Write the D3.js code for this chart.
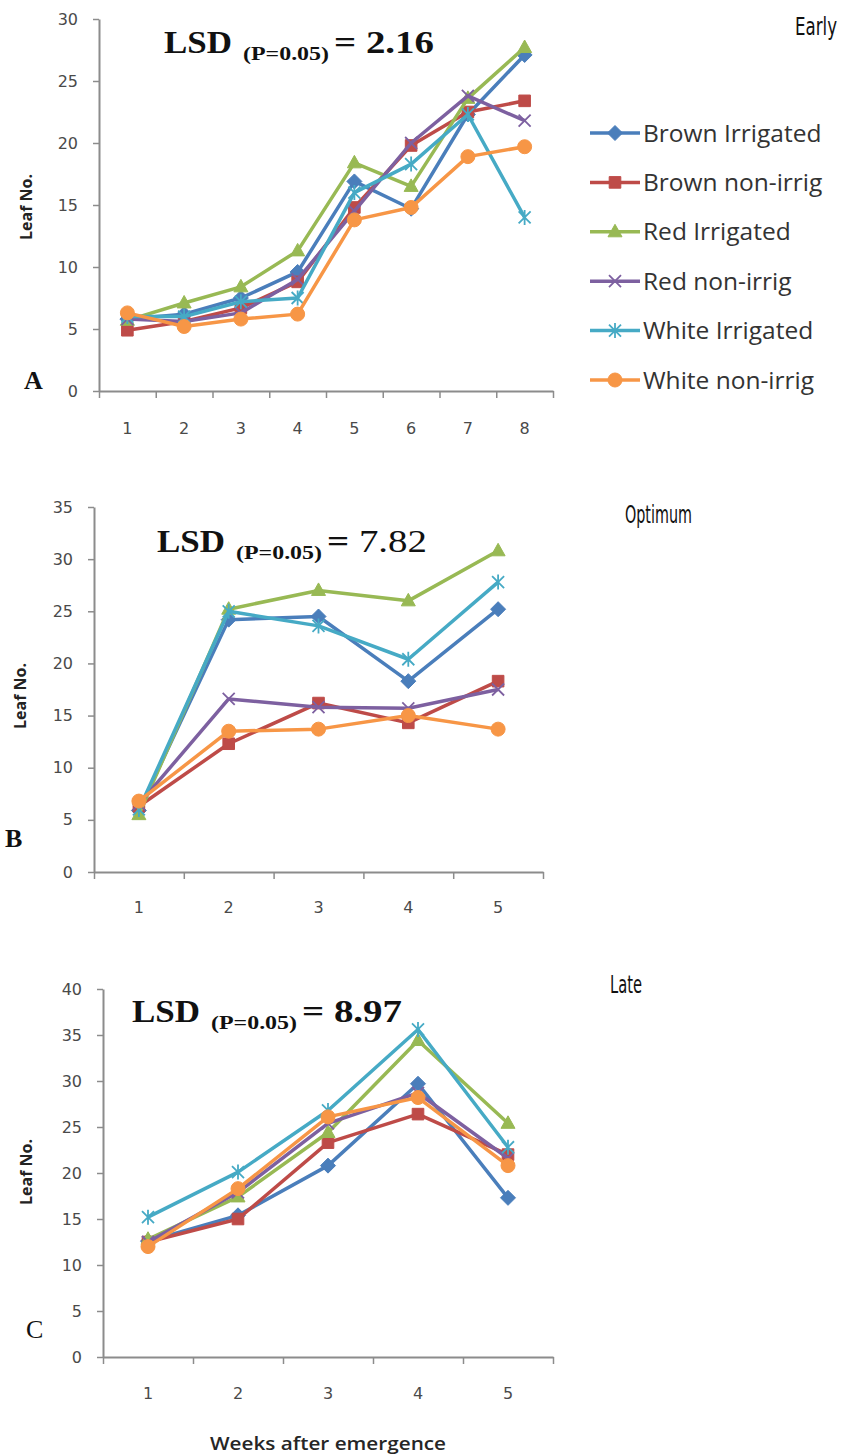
<!DOCTYPE html>
<html>
<head>
<meta charset="utf-8">
<script src="https://cdn.jsdelivr.net/npm/d3@7"></script>
<style>
  body { margin: 0; background: #fff; }
  svg { display: block; }
</style>
</head>
<body>
<div id="chart"></div>
<script>
// series (Excel 2007 default look)
const seriesNames = ["Brown Irrigated", "Brown non-irrig", "Red Irrigated", "Red non-irrig", "White Irrigated", "White non-irrig"];
const seriesColors = ["#4a7ebb", "#be4b48", "#98b954", "#7d60a0", "#46aac5", "#f79646"];
const seriesMarkers = ["diamond", "square", "triangle", "x", "star", "circle"];

// weeks after emergence
const weeksEarly = [1, 2, 3, 4, 5, 6, 7, 8];
const weeksOptimum = [1, 2, 3, 4, 5];
const weeksLate = [1, 2, 3, 4, 5];

// leaf no. - one row per series, same order as seriesNames
const leafEarly = [
    [5.8, 6.2, 7.5, 9.6, 16.9, 14.7, 22.3, 27.1],
    [4.9, 5.6, 6.7, 8.8, 14.8, 19.8, 22.5, 23.4],
    [5.7, 7.1, 8.4, 11.3, 18.4, 16.5, 23.6, 27.7],
    [5.8, 5.6, 6.3, 9.0, 14.5, 20.0, 23.8, 21.8],
    [6.0, 6.0, 7.2, 7.5, 16.0, 18.3, 22.3, 14.0],
    [6.3, 5.2, 5.8, 6.2, 13.8, 14.8, 18.9, 19.7]
];
const leafOptimum = [
    [5.9, 24.2, 24.5, 18.3, 25.2],
    [6.3, 12.3, 16.2, 14.3, 18.3],
    [5.5, 25.2, 27.0, 26.0, 30.8],
    [6.5, 16.6, 15.8, 15.7, 17.5],
    [6.0, 25.0, 23.6, 20.4, 27.8],
    [6.8, 13.5, 13.7, 15.0, 13.7]
];
const leafLate = [
    [12.6, 15.4, 20.8, 29.7, 17.3],
    [12.5, 15.0, 23.3, 26.4, 22.0],
    [12.8, 17.4, 24.4, 34.4, 25.4],
    [12.5, 17.9, 25.4, 28.7, 21.6],
    [15.2, 20.1, 26.8, 35.6, 22.8],
    [12.0, 18.3, 26.1, 28.2, 20.8]
];

const lsdValues = ["2.16", "7.82", "8.97"];
const seasonNames = ["Early", "Optimum", "Late"];
const panelLetters = ["A", "B", "C"];
const yMaxes = [30, 35, 40];

// layout for each panel (pixels)
const panels = [
    { weeks: weeksEarly, values: leafEarly, left: 99, right: 553, bottom: 391, top: 19, labelGap: 41,
      leafX: 26, leafY: 207, lsdX: 164, lsdY: 53, seasonX: 795, seasonY: 35, seasonW: 42, letterX: 24, letterY: 389 },
    { weeks: weeksOptimum, values: leafOptimum, left: 94, right: 543, bottom: 872, top: 507, labelGap: 39,
      leafX: 20, leafY: 696, lsdX: 157, lsdY: 552, seasonX: 625, seasonY: 523, seasonW: 67, letterX: 5, letterY: 847 },
    { weeks: weeksLate, values: leafLate, left: 103, right: 553, bottom: 1357, top: 989, labelGap: 40,
      leafX: 26, leafY: 1172, lsdX: 132, lsdY: 1022, seasonX: 610, seasonY: 993, seasonW: 32, letterX: 26, letterY: 1338 }
];

const svg = d3.select("#chart").append("svg")
    .attr("width", 848)
    .attr("height", 1456);

const axisGrey = "#8c8c8c";
const labelGrey = "#4a4a4a";

// marker shapes
function markerPath(type) {
    switch (type) {
        case "diamond": return "M0,-7.5L7.5,0L0,7.5L-7.5,0Z";
        case "square": return "M-5.8,-5.8H5.8V5.8H-5.8Z";
        case "triangle": return "M0,-7.5L7,5H-7Z";
        case "x": return "M-6,-6L6,6M-6,6L6,-6";
        case "star": return "M-6,-6L6,6M-6,6L6,-6M0,-7.5V7.5";
        default: return null;
    }
}

function drawMarker(g, type, color, x, y) {
    if (type === "circle") {
        g.append("circle").attr("cx", x).attr("cy", y).attr("r", 7)
            .attr("fill", color).attr("stroke", color).attr("stroke-width", 1);
    } else if (type === "x" || type === "star") {
        g.append("path").attr("transform", `translate(${x},${y})`).attr("d", markerPath(type))
            .attr("fill", "none").attr("stroke", color).attr("stroke-width", 1.8);
    } else {
        g.append("path").attr("transform", `translate(${x},${y})`).attr("d", markerPath(type))
            .attr("fill", color).attr("stroke", color).attr("stroke-width", 1);
    }
}

panels.forEach((p, pi) => {
    const g = svg.append("g");

    const x = d3.scaleBand().domain(p.weeks).range([p.left, p.right]);
    const xEdge = d3.scaleLinear().domain([0, p.weeks.length]).range([p.left, p.right]);
    const y = d3.scaleLinear().domain([0, yMaxes[pi]]).range([p.bottom, p.top]);

    // y axis
    const yAxis = g.append("g")
        .attr("transform", `translate(${p.left},0)`)
        .call(d3.axisLeft(y).tickValues(d3.range(0, yMaxes[pi] + 1, 5)).tickSize(6).tickSizeOuter(0).tickPadding(15));
    yAxis.select(".domain").attr("stroke", axisGrey).attr("stroke-width", 2);
    yAxis.selectAll(".tick line").attr("stroke", axisGrey).attr("stroke-width", 1.5);
    yAxis.selectAll(".tick text")
        .attr("font-family", "'DejaVu Sans', Verdana, sans-serif")
        .attr("font-size", 16)
        .attr("fill", labelGrey);

    // x axis: ticks between categories, labels centred
    const xAxis = g.append("g")
        .attr("transform", `translate(0,${p.bottom})`)
        .call(d3.axisBottom(xEdge).tickValues(d3.range(0, p.weeks.length + 1)).tickSize(7).tickSizeOuter(0).tickFormat(""));
    xAxis.select(".domain").attr("stroke", axisGrey).attr("stroke-width", 2);
    xAxis.selectAll(".tick line").attr("stroke", axisGrey).attr("stroke-width", 1.5);

    const xLabels = g.append("g")
        .attr("transform", `translate(0,${p.bottom})`)
        .call(d3.axisBottom(x).tickSize(0).tickPadding(p.labelGap - 9));
    xLabels.select(".domain").remove();
    xLabels.selectAll(".tick text")
        .attr("font-family", "'DejaVu Sans', Verdana, sans-serif")
        .attr("font-size", 16)
        .attr("fill", labelGrey);

    // series lines and markers
    const line = d3.line()
        .x((d, i) => x(p.weeks[i]) + x.bandwidth() / 2)
        .y(d => y(d));

    p.values.forEach((vals, si) => {
        const sg = g.append("g");
        sg.append("path")
            .datum(vals)
            .attr("d", line)
            .attr("fill", "none")
            .attr("stroke", seriesColors[si])
            .attr("stroke-width", 3.5)
            .attr("stroke-linejoin", "round");
        vals.forEach((v, i) => {
            drawMarker(sg, seriesMarkers[si], seriesColors[si], x(p.weeks[i]) + x.bandwidth() / 2, y(v));
        });
    });

    // y title
    g.append("text")
        .attr("transform", `translate(${p.leafX},${p.leafY}) rotate(-90)`)
        .attr("text-anchor", "middle")
        .attr("dy", "0.35em")
        .attr("font-family", "'Open Sans', sans-serif")
        .attr("font-weight", "bold")
        .attr("font-size", 16)
        .attr("fill", "#222")
        .text("Leaf No.");

    // LSD note
    const serif = "'Liberation Serif', 'Times New Roman', serif";
    g.append("text")
        .attr("x", p.lsdX).attr("y", p.lsdY)
        .attr("font-family", serif).attr("font-weight", "bold").attr("font-size", 32)
        .attr("textLength", 68).attr("lengthAdjust", "spacingAndGlyphs")
        .attr("fill", "#111")
        .text("LSD");
    g.append("text")
        .attr("x", p.lsdX + 79).attr("y", p.lsdY + 7)
        .attr("font-family", serif).attr("font-weight", "bold").attr("font-size", 18)
        .attr("textLength", 86).attr("lengthAdjust", "spacingAndGlyphs")
        .attr("fill", "#111")
        .text("(P=0.05)");
    const eq = g.append("text")
        .attr("x", p.lsdX + 170).attr("y", p.lsdY)
        .attr("font-family", serif).attr("font-size", 32)
        .attr("textLength", 100).attr("lengthAdjust", "spacingAndGlyphs")
        .attr("fill", "#111");
    eq.append("tspan").attr("font-weight", "bold").text("= ");
    eq.append("tspan").attr("font-weight", pi === 1 ? "normal" : "bold").text(lsdValues[pi]);

    // sowing date label: narrow font, squeezed horizontally to the measured width
    const season = g.append("text")
        .attr("font-family", "'Liberation Sans Narrow', 'DejaVu Sans Condensed', sans-serif")
        .attr("font-size", 25)
        .attr("fill", "#111")
        .text(seasonNames[pi]);
    const natural = season.node().getComputedTextLength();
    season.attr("transform", `translate(${p.seasonX},${p.seasonY}) scale(${p.seasonW / natural},1)`);

    // panel letter
    g.append("text")
        .attr("x", p.letterX).attr("y", p.letterY)
        .attr("font-family", serif)
        .attr("font-weight", pi === 2 ? "normal" : "bold")
        .attr("font-size", 26)
        .attr("fill", "#111")
        .text(panelLetters[pi]);
});

// legend (panel A only)
const legend = svg.append("g");
seriesNames.forEach((name, i) => {
    const ly = 133 + i * 49.4;
    legend.append("line")
        .attr("x1", 590).attr("x2", 640).attr("y1", ly).attr("y2", ly)
        .attr("stroke", seriesColors[i]).attr("stroke-width", 3.5);
    drawMarker(legend, seriesMarkers[i], seriesColors[i], 615, ly);
    legend.append("text")
        .attr("x", 643).attr("y", ly)
        .attr("dy", "0.35em")
        .attr("font-family", "'Open Sans', sans-serif")
        .attr("font-size", 24.5)
        .attr("fill", "#333")
        .text(name);
});

// x title (bottom panel)
svg.append("text")
    .attr("x", 328).attr("y", 1450)
    .attr("text-anchor", "middle")
    .attr("font-family", "'Open Sans', sans-serif")
    .attr("font-weight", 600)
    .attr("font-size", 18)
    .attr("textLength", 236).attr("lengthAdjust", "spacingAndGlyphs")
    .attr("fill", "#262626")
    .text("Weeks after emergence");
</script>
</body>
</html>
